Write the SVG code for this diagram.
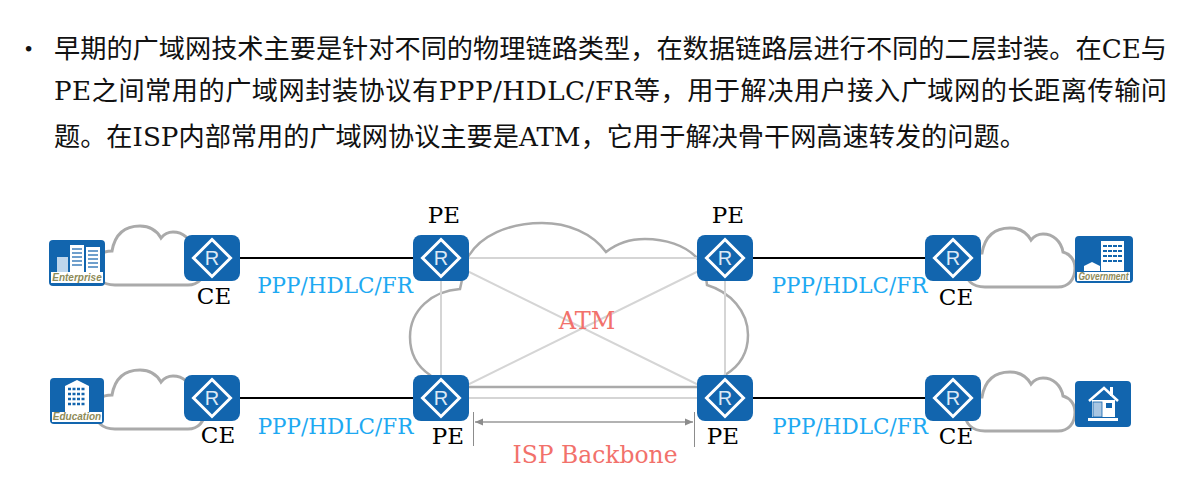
<svg xmlns="http://www.w3.org/2000/svg" xmlns:xlink="http://www.w3.org/1999/xlink" width="1190" height="491" viewBox="0 0 1190 491">
<style>
.body{font-family:"DejaVu Serif","Noto Sans CJK SC",serif;font-size:26.200px;fill:#111}
.lbl{font-family:"DejaVu Serif",serif;font-size:23px;fill:#000;text-anchor:middle}
.ppp{font-family:"DejaVu Serif",serif;font-size:21.500px;fill:#1EA9F2;text-anchor:middle}
.red{font-family:"DejaVu Serif",serif;font-size:24px;fill:#F2716B;text-anchor:middle}
.cloud{fill:#fff;stroke:#aaa;stroke-width:3}
.bigcloud{fill:#fff;stroke:#aaa;stroke-width:2.500}
.blue{fill:#1265AE}
.dia{fill:none;stroke:#fff;stroke-width:3}
.r{font-family:"Liberation Sans",sans-serif;font-size:20px;fill:#DCE9F5;text-anchor:middle}
.black{stroke:#000;stroke-width:2.200;fill:none}
.gray{stroke:#d5d5d5;stroke-width:2;fill:none}
.dim{stroke:#8c8c8c;stroke-width:1;fill:none}
.tag{font-family:"Liberation Sans",sans-serif;font-size:10px;font-weight:bold;font-style:italic;fill:#8E8B58;text-anchor:middle}
.w{fill:#fff}
</style>
<defs>
<path id="cl" d="M982,253 C985,236 995,228 1010,228 C1020,228 1027,233 1031,240 C1035,235 1040,234 1043,234 C1053,234 1061,241 1063,252 C1070,254 1075,260 1075,268 C1075,280 1068,287 1058,287 L985,287 C972,287 965,280 965,268 C965,258 972,253 982,253 Z"/>
<g id="router">
<rect class="blue" x="0" y="0" width="56" height="46" rx="8"/>
<path class="dia" d="M28,4.500 L46.500,23 L28,41.500 L9.500,23 Z"/>
<text class="r" x="28" y="30">R</text>
</g>
<marker id="ah" markerWidth="9" markerHeight="9" refX="8" refY="4.500" orient="auto-start-reverse" markerUnits="userSpaceOnUse"><path d="M0,1 L8,4.500 L0,8 Z" fill="#8c8c8c"/></marker>
</defs>
<text class="body" x="23" y="56" style="font-size:19px">•</text>
<text class="body" x="54" y="58" textLength="1113" lengthAdjust="spacing">早期的广域网技术主要是针对不同的物理链路类型，在数据链路层进行不同的二层封装。在CE与</text>
<text class="body" x="54" y="100" textLength="1113" lengthAdjust="spacing">PE之间常用的广域网封装协议有PPP/HDLC/FR等，用于解决用户接入广域网的长距离传输问</text>
<text class="body" x="54" y="146">题。在ISP内部常用的广域网协议主要是ATM，它用于解决骨干网高速转发的问题。</text>
<g id="clouds">
<use href="#cl" class="cloud" transform="translate(-870,-2)"/>
<use href="#cl" class="cloud" transform="translate(-870,142)"/>
<use href="#cl" class="cloud"/>
<use href="#cl" class="cloud" transform="translate(0,144)"/>
<path id="atm-cloud" class="bigcloud" d="M462,280 L460,289 C432,291 410,310 410,337 C410,355 418,367 430,375 L441,387 L725,387 L725,375 C740,366 748,352 748,335 C748,311 730,292 707,285 L705,270 L697,258 C685,245 665,239 645,239 C630,239 616,244 606,252 C592,233 568,223 542,223 C508,223 480,236 468,257 Z"/>
</g>
<g id="connectors">
<path class="gray" d="M441,258 H725 M441,398 H725 M441,258 V398 M725,258 V398 M441,258 L725,398 M725,258 L441,398"/>
<path class="black" d="M240,258 H413 M753,258 H925 M240,398 H413 M753,398 H925"/>
<path class="dim" d="M473.500,412 V446 M694.500,412 V447"/>
<path d="M475,422 H693" stroke="#999" stroke-width="1.500" fill="none" marker-start="url(#ah)" marker-end="url(#ah)"/>
</g>
<g id="enterprise">
<rect class="blue" x="49" y="240" width="56" height="46" rx="4"/>
<rect x="57" y="257" width="11" height="15" fill="#BFD6EC"/>
<rect class="w" x="70" y="245" width="14" height="27"/>
<rect class="w" x="86" y="247" width="14" height="25"/>
<path d="M72,249 H82 M72,253 H82 M72,257 H82 M72,261 H82 M72,265 H82 M88,251 H98 M88,255 H98 M88,259 H98 M88,263 H98 M88,267 H98" stroke="#6F9FCC" stroke-width="2"/>
<rect class="w" x="51" y="272" width="52" height="11"/>
<text class="tag" x="77" y="281">Enterprise</text>
</g>
<g id="education">
<rect class="blue" x="50" y="378" width="54" height="46" rx="4"/>
<path class="w" d="M65,386 L77,380 L89,386 V412 H65 Z"/>
<path d="M68,389 H86 M68,394 H86 M68,399 H86 M68,404 H86" stroke="#1265AE" stroke-width="2.500" stroke-dasharray="3 1.500"/>
<rect class="w" x="52" y="412" width="50" height="10"/>
<text class="tag" x="77" y="420">Education</text>
</g>
<g id="government">
<rect class="blue" x="1075" y="236" width="58" height="47" rx="4"/>
<path class="w" d="M1101,241 H1124 V271 H1101 Z"/>
<path d="M1103,246 H1122 M1103,251 H1122 M1103,256 H1122 M1103,261 H1122" stroke="#1265AE" stroke-width="2" stroke-dasharray="4 1"/>
<path class="w" d="M1084,271 V266 L1092,262 L1100,266 V271 Z"/>
<rect class="w" x="1077" y="272" width="53" height="9"/>
<text class="tag" x="1103.500" y="280" textLength="50" lengthAdjust="spacingAndGlyphs">Government</text>
</g>
<g id="home">
<rect class="blue" x="1075" y="381" width="56" height="46" rx="4"/>
<path d="M1089,401 L1104,388 L1118,401" fill="none" stroke="#fff" stroke-width="2.500"/>
<rect class="w" x="1110" y="387" width="3" height="9"/>
<rect x="1092" y="400" width="23" height="17" fill="#fff"/>
<rect x="1093" y="402" width="9" height="15" fill="#A9C6E2" stroke="#1265AE" stroke-width="0.800"/>
<rect x="1106" y="403" width="6" height="5" fill="#1265AE"/>
<rect class="w" x="1088" y="418" width="30" height="3"/>
</g>
<g id="ce-tl"><use href="#router" x="184" y="235"/><text class="lbl" x="214" y="304">CE</text></g>
<g id="ce-bl"><use href="#router" x="184" y="375"/><text class="lbl" x="218" y="443">CE</text></g>
<g id="pe-tl"><use href="#router" x="413" y="235"/><text class="lbl" x="444" y="223">PE</text></g>
<g id="pe-tr"><use href="#router" x="697" y="235"/><text class="lbl" x="728" y="223">PE</text></g>
<g id="pe-bl"><use href="#router" x="413" y="375"/><text class="lbl" x="448" y="444">PE</text></g>
<g id="pe-br"><use href="#router" x="697" y="375"/><text class="lbl" x="723" y="444">PE</text></g>
<g id="ce-tr"><use href="#router" x="925" y="235"/><text class="lbl" x="956" y="305">CE</text></g>
<g id="ce-br"><use href="#router" x="925" y="375"/><text class="lbl" x="956" y="444">CE</text></g>
<g id="labels">
<text class="ppp" x="335" y="293">PPP/HDLC/FR</text>
<text class="ppp" x="335.500" y="434">PPP/HDLC/FR</text>
<text class="ppp" x="849.500" y="293">PPP/HDLC/FR</text>
<text class="ppp" x="850" y="434">PPP/HDLC/FR</text>
<text class="red" x="587" y="329">ATM</text>
<text class="red" x="595" y="463" textLength="165" lengthAdjust="spacingAndGlyphs">ISP Backbone</text>
</g>
</svg>
